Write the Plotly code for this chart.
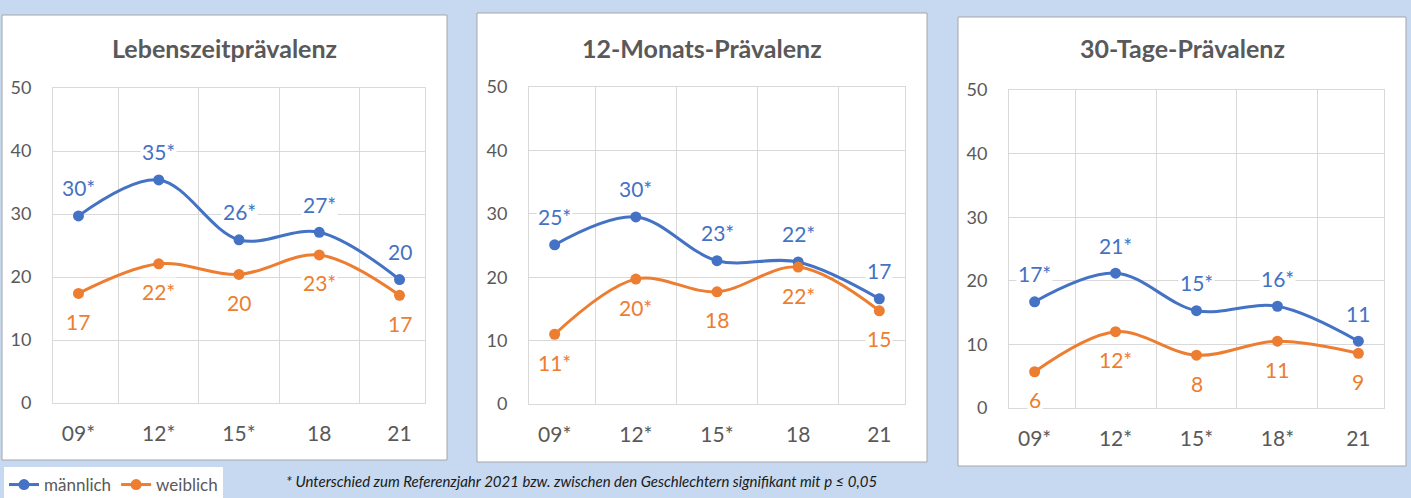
import plotly.graph_objects as go

# ---------------- data ----------------
titles = ["Lebenszeitprävalenz", "12-Monats-Prävalenz", "30-Tage-Prävalenz"]
categories_1 = ["09*", "12*", "15*", "18", "21"]
categories_2 = ["09*", "12*", "15*", "18", "21"]
categories_3 = ["09*", "12*", "15*", "18*", "21"]

male_1 = [29.7, 35.4, 25.9, 27.1, 19.6]
female_1 = [17.4, 22.1, 20.4, 23.5, 17.1]
male_labels_1 = ["30*", "35*", "26*", "27*", "20"]
female_labels_1 = ["17", "22*", "20", "23*", "17"]

male_2 = [25.1, 29.5, 22.6, 22.4, 16.6]
female_2 = [11.0, 19.7, 17.7, 21.6, 14.7]
male_labels_2 = ["25*", "30*", "23*", "22*", "17"]
female_labels_2 = ["11*", "20*", "18", "22*", "15"]

male_3 = [16.7, 21.2, 15.3, 16.0, 10.5]
female_3 = [5.7, 12.0, 8.3, 10.5, 8.6]
male_labels_3 = ["17*", "21*", "15*", "16*", "11"]
female_labels_3 = ["6", "12*", "8", "11", "9"]

series_names = ["männlich", "weiblich"]
y_ticks = [0, 10, 20, 30, 40, 50]
footnote = "* Unterschied zum Referenzjahr 2021 bzw. zwischen den Geschlechtern signifikant mit p ≤ 0,05"

# ---------------- style ----------------
W, H = 1411, 498
BLUE = "#4472C4"
ORANGE = "#ED7D31"
GRID = "#D9D9D9"
TXT = "#595959"
BG = "#C6D9F0"
FONT = "Lato"

def px_x(x):
    return x / W

def px_y(y):
    return 1 - y / H

panels = [
    dict(cats=categories_1, m=male_1, f=female_1, ml=male_labels_1, fl=female_labels_1,
         box=(2, 15, 447, 460), plot=(53, 88, 425, 403)),
    dict(cats=categories_2, m=male_2, f=female_2, ml=male_labels_2, fl=female_labels_2,
         box=(477, 13, 927, 462), plot=(529, 87, 905, 404)),
    dict(cats=categories_3, m=male_3, f=female_3, ml=male_labels_3, fl=female_labels_3,
         box=(958, 17, 1406, 466), plot=(1009, 90, 1384, 408)),
]

fig = go.Figure()
shapes = []
annotations = []

for i, p in enumerate(panels):
    n = i + 1
    xa = "x" if n == 1 else f"x{n}"
    ya = "y" if n == 1 else f"y{n}"
    bx0, by0, bx1, by1 = p["box"]
    shapes.append(dict(type="rect", xref="paper", yref="paper", layer="below",
                       x0=px_x(bx0), x1=px_x(bx1), y0=px_y(by1), y1=px_y(by0),
                       fillcolor="white", line=dict(color="#A6A6A6", width=1)))
    annotations.append(dict(text=f"<b>{titles[i]}</b>", xref="paper", yref="paper",
                            x=px_x((bx0 + bx1) / 2), y=px_y(48), xanchor="center", yanchor="middle",
                            showarrow=False, font=dict(family=FONT, size=25, color=TXT)))
    for vals, name, color, labs, shift in [
        (p["m"], series_names[0], BLUE, p["ml"], 28),
        (p["f"], series_names[1], ORANGE, p["fl"], -28),
    ]:
        fig.add_trace(go.Scatter(
            x=p["cats"], y=vals, name=name, mode="lines+markers",
            line=dict(color=color, width=3, shape="spline"),
            marker=dict(color=color, size=11),
            xaxis=xa, yaxis=ya, showlegend=(n == 1), hoverinfo="skip"))
        for k, (v, lab) in enumerate(zip(vals, labs)):
            annotations.append(dict(text=lab, x=k, y=v, xref=xa, yref=ya, showarrow=False,
                                    yshift=shift, bgcolor="white", borderpad=1,
                                    font=dict(family=FONT, size=21, color=color)))
    x0, y0, x1, y1 = p["plot"]
    axkey = "xaxis" if n == 1 else f"xaxis{n}"
    aykey = "yaxis" if n == 1 else f"yaxis{n}"
    fig.layout[axkey] = dict(
        domain=[px_x(x0), px_x(x1)], anchor=ya, type="category",
        categoryorder="array", categoryarray=p["cats"],
        tickson="boundaries", showgrid=True, gridcolor=GRID, gridwidth=1,
        showline=True, mirror=True, linecolor=GRID, linewidth=1,
        ticks="", ticklabelstandoff=12, automargin=False,
        tickfont=dict(family=FONT, size=21, color=TXT), fixedrange=True)
    fig.layout[aykey] = dict(
        domain=[px_y(y1), px_y(y0)], anchor=xa, range=[0, 50],
        tickvals=y_ticks, showgrid=True, gridcolor=GRID, gridwidth=1, zeroline=False,
        showline=True, mirror=True, linecolor=GRID, linewidth=1,
        ticks="outside", ticklen=17, tickcolor="rgba(0,0,0,0)", automargin=False,
        tickfont=dict(family=FONT, size=18, color=TXT), fixedrange=True)

annotations.append(dict(text=f"<i>{footnote}</i>", xref="paper", yref="paper",
                        x=px_x(284), y=px_y(481), xanchor="left", yanchor="middle",
                        showarrow=False, font=dict(family=FONT, size=15, color="#1a1a1a")))

fig.update_layout(
    width=W, height=H, margin=dict(l=0, r=0, t=0, b=0, pad=0, autoexpand=False),
    paper_bgcolor=BG, plot_bgcolor="white",
    shapes=shapes, annotations=annotations,
    legend=dict(orientation="h", x=px_x(4), y=px_y(467), xanchor="left", yanchor="top",
                bgcolor="white", font=dict(family=FONT, size=17, color=TXT),
                itemwidth=30, tracegroupgap=0),
)

fig.write_html("out.html", config={"displayModeBar": False},
               post_script="document.body.style.margin='0';document.body.style.background='" + BG + "';")
